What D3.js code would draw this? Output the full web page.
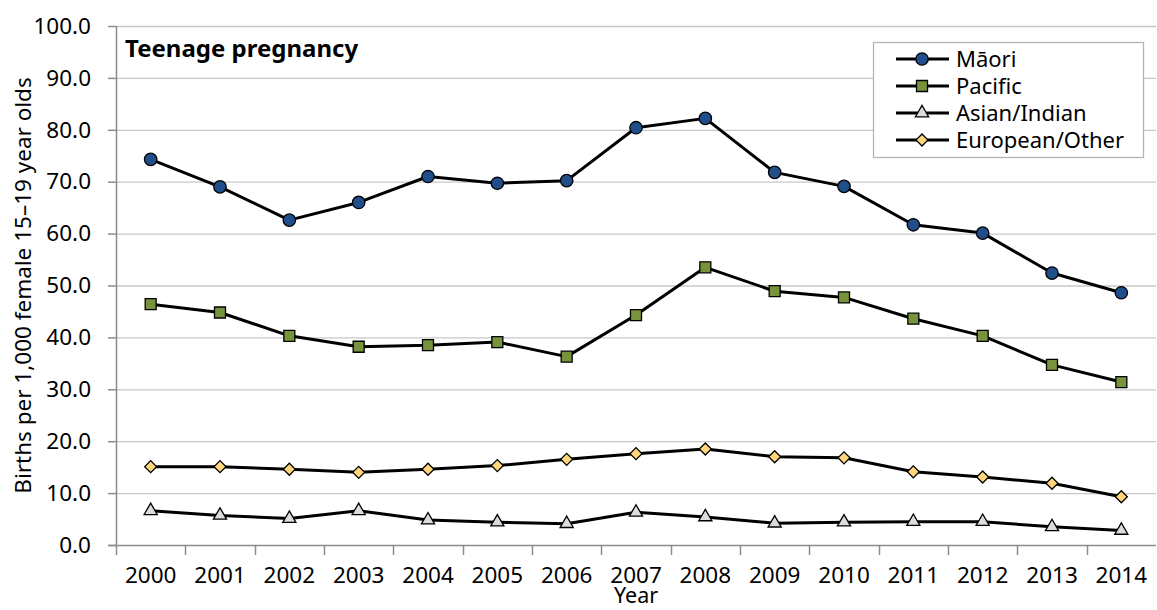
<!DOCTYPE html>
<html>
<head>
<meta charset="utf-8">
<script src="https://cdn.jsdelivr.net/npm/d3@7"></script>
<style>
  html, body { margin: 0; padding: 0; background: #fff; }
  svg { display: block; font-family: "Segoe UI", "Noto Sans", "Open Sans", sans-serif; }
</style>
</head>
<body>
<svg id="chart" width="1157" height="610"></svg>
<script>
const years = ["2000","2001","2002","2003","2004","2005","2006","2007","2008","2009","2010","2011","2012","2013","2014"];
const maori    = [74.3, 69.0, 62.6, 66.0, 71.0, 69.7, 70.2, 80.4, 82.2, 71.8, 69.1, 61.7, 60.1, 52.4, 48.6];
const pacific  = [46.4, 44.8, 40.3, 38.2, 38.5, 39.1, 36.3, 44.3, 53.5, 48.9, 47.7, 43.6, 40.3, 34.7, 31.4];
const asian    = [6.6, 5.7, 5.1, 6.6, 4.8, 4.4, 4.1, 6.3, 5.4, 4.2, 4.4, 4.5, 4.5, 3.5, 2.8];
const european = [15.1, 15.1, 14.6, 14.0, 14.6, 15.3, 16.5, 17.6, 18.5, 17.0, 16.8, 14.1, 13.1, 11.9, 9.3];
const seriesNames = ["Māori", "Pacific", "Asian/Indian", "European/Other"];
const yTicks = [0, 10, 20, 30, 40, 50, 60, 70, 80, 90, 100];
const chartTitle = "Teenage pregnancy";
const yTitle = "Births per 1,000 female 15–19 year olds";
const xTitle = "Year";

const series = [
  { name: seriesNames[0], values: maori,    shape: "circle",   fill: "#1F4E8A" },
  { name: seriesNames[1], values: pacific,  shape: "square",   fill: "#77933C" },
  { name: seriesNames[2], values: asian,    shape: "triangle", fill: "#DEDCD8" },
  { name: seriesNames[3], values: european, shape: "diamond",  fill: "#FFD67C" }
];

const FS = 22.5;
const svg = d3.select("#chart");
const margin = { left: 116, right: 1, top: 26, bottom: 65 };
const W = 1157, H = 610;
const plotL = margin.left, plotR = W - margin.right, plotT = margin.top, plotB = H - margin.bottom;

const x = d3.scaleBand().domain(years).range([plotL, plotR]);
const y = d3.scaleLinear().domain([0, 100]).range([plotB, plotT]);

// gridlines
svg.append("g").selectAll("line").data(yTicks.filter(d => d > 0)).join("line")
  .attr("x1", plotL).attr("x2", plotR)
  .attr("y1", d => y(d) + 0.5).attr("y2", d => y(d) + 0.5)
  .attr("stroke", "#C8C8C8").attr("stroke-width", 1.3);

// y axis
const yAxis = d3.axisLeft(y).tickValues(yTicks).tickFormat(d3.format(".1f")).tickSize(8).tickPadding(17);
const gy = svg.append("g").attr("transform", `translate(${plotL},0)`).call(yAxis);
gy.select(".domain").attr("stroke", "#8C8C8C").attr("stroke-width", 1.5).attr("d", `M0.5,${plotT}V${plotB}`);
gy.selectAll(".tick line").attr("stroke", "#8C8C8C").attr("stroke-width", 1.5);
gy.selectAll(".tick text").attr("font-size", FS).attr("fill", "#000").attr("font-family", "\"Segoe UI\", \"Noto Sans\", sans-serif");

// x axis
const xAxis = d3.axisBottom(x).tickSize(0).tickPadding(10);
const gx = svg.append("g").attr("transform", `translate(0,${plotB})`).call(xAxis);
gx.select(".domain").attr("stroke", "#8C8C8C").attr("stroke-width", 1.5).attr("d", `M${plotL - 8},0.5H${plotR}`);
gx.selectAll(".tick text").attr("font-size", FS).attr("fill", "#000").attr("y", 38).attr("dy", 0)
  .attr("font-family", "\"Segoe UI\", \"Noto Sans\", sans-serif");
// category boundary ticks
const bounds = years.map(d => x(d));
svg.append("g").selectAll("line").data(bounds).join("line")
  .attr("x1", d => Math.round(d) + 0.5).attr("x2", d => Math.round(d) + 0.5)
  .attr("y1", plotB).attr("y2", plotB + 10)
  .attr("stroke", "#8C8C8C").attr("stroke-width", 1.5);

// axis titles
svg.append("text")
  .attr("transform", `translate(31,${(plotT + plotB) / 2}) rotate(-90)`)
  .attr("text-anchor", "middle").attr("font-size", FS).attr("fill", "#000")
  .text(yTitle);
svg.append("text")
  .attr("x", (plotL + plotR) / 2).attr("y", 603)
  .attr("text-anchor", "middle").attr("font-size", 21.5).attr("fill", "#000")
  .text(xTitle);

// chart title
svg.append("text").attr("x", 125).attr("y", 57)
  .attr("font-size", 24).attr("font-weight", "bold").attr("fill", "#000")
  .text(chartTitle);

// symbols
const symbolFor = s => {
  if (s === "circle") return d3.symbol().type(d3.symbolCircle).size(Math.PI * 6.2 * 6.2);
  if (s === "square") return d3.symbol().type(d3.symbolSquare).size(11 * 11);
  return d3.symbol().type(d3.symbolTriangle).size(75);
};
const diamondPath = d3.symbol().type(d3.symbolSquare).size(72)();

const cx = d => x(d) + x.bandwidth() / 2;
const line = d3.line().x((d, i) => cx(years[i])).y(d => y(d));

series.forEach(s => {
  const g = svg.append("g");
  g.append("path").datum(s.values).attr("d", line)
    .attr("fill", "none").attr("stroke", "#000").attr("stroke-width", 3).attr("stroke-linejoin", "round");
  g.selectAll("path.m").data(s.values).join("path").attr("class", "m")
    .attr("d", s.shape === "diamond" ? diamondPath : symbolFor(s.shape)())
    .attr("transform", (d, i) => `translate(${cx(years[i])},${y(d)})` + (s.shape === "diamond" ? " rotate(45)" : ""))
    .attr("fill", s.fill).attr("stroke", "#000").attr("stroke-width", 1.3);
});

// legend
const lg = svg.append("g");
lg.append("rect").attr("x", 873.5).attr("y", 42.5).attr("width", 270).attr("height", 115)
  .attr("fill", "#fff").attr("stroke", "#B4B4B4").attr("stroke-width", 1.3);
series.forEach((s, i) => {
  const yy = 59 + i * 27;
  lg.append("line").attr("x1", 896).attr("x2", 949).attr("y1", yy).attr("y2", yy)
    .attr("stroke", "#000").attr("stroke-width", 3);
  lg.append("path")
    .attr("d", s.shape === "diamond" ? diamondPath : symbolFor(s.shape)())
    .attr("transform", `translate(922,${yy})` + (s.shape === "diamond" ? " rotate(45)" : ""))
    .attr("fill", s.fill).attr("stroke", "#000").attr("stroke-width", 1.3);
  lg.append("text").attr("x", 956).attr("y", yy).attr("dy", "0.35em")
    .attr("font-size", 22).attr("fill", "#000").text(s.name);
});
</script>
</body>
</html>
